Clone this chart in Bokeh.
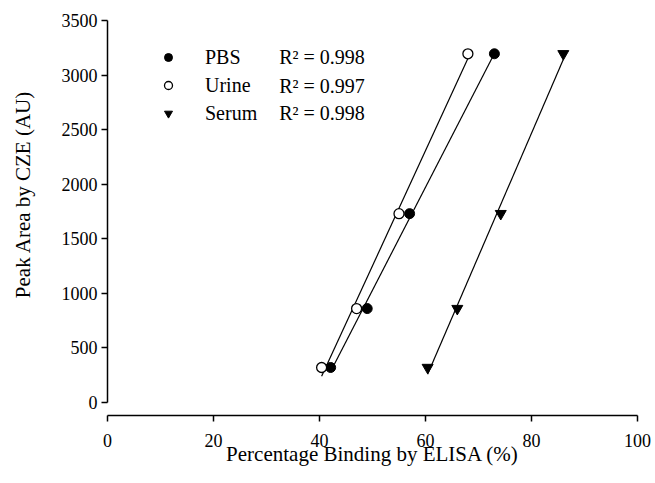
import numpy as np
from bokeh.plotting import figure
from bokeh.models import Range1d, FixedTicker, Legend, LegendItem, Label, LinearAxis
from bokeh.embed import file_html
from bokeh.resources import INLINE

# ---- data ----
pbs_x = [42.1, 49.0, 57.0, 73.0]
pbs_y = [320, 860, 1730, 3195]
urine_x = [40.4, 47.0, 55.0, 68.0]
urine_y = [320, 860, 1730, 3195]
serum_x = [60.4, 66.0, 74.2, 86.0]
serum_y = [320, 860, 1730, 3195]
series_names = ["PBS", "Urine", "Serum"]
r2_labels = ["R\u00b2 = 0.998", "R\u00b2 = 0.997", "R\u00b2 = 0.998"]
x_ticks = [0, 20, 40, 60, 80, 100]
y_ticks = [0, 500, 1000, 1500, 2000, 2500, 3000, 3500]
x_title = "Percentage Binding by ELISA (%)"
y_title = "Peak Area by CZE (AU)"

FONT = "Liberation Serif"

p = figure(width=655, height=483, output_backend="svg", toolbar_location=None,
           x_range=Range1d(0, 100), y_range=Range1d(-120, 3500),
           min_border_left=107, min_border_right=18, min_border_top=20, min_border_bottom=68)
p.outline_line_color = None
p.grid.visible = False
p.background_fill_color = "white"
p.border_fill_color = "white"

xa = p.xaxis[0]
ya = p.yaxis[0]
for ax, ticks, b in ((xa, x_ticks, (0, 100)), (ya, y_ticks, (0, 3500))):
    ax.ticker = FixedTicker(ticks=ticks)
    ax.bounds = b
    ax.axis_line_width = 1.5
    ax.axis_line_color = "black"
    ax.major_tick_line_color = "black"
    ax.major_tick_line_width = 1.5
    ax.major_tick_in = 0
    ax.major_tick_out = 6
    ax.minor_tick_line_color = None
    ax.major_label_text_font = FONT
    ax.major_label_text_font_size = "18px"
    ax.major_label_text_font_style = "normal"
    ax.major_label_text_color = "black"
xa.major_label_standoff = 12
ya.major_label_standoff = 4

xa.axis_label = x_title
xa.axis_label_text_font = FONT
xa.axis_label_text_font_size = "21px"
xa.axis_label_text_font_style = "normal"
xa.axis_label_text_color = "black"
xa.axis_label_standoff = -8

# y title carried by a bare axis; leading no-break spaces lift it to where the reference has it
ytitle_axis = LinearAxis(ticker=FixedTicker(ticks=[]), bounds=(310, 3500),
                         axis_line_color=None, major_tick_line_color=None,
                         minor_tick_line_color=None, axis_label="\u00a0" * 9 + y_title,
                         axis_label_text_font=FONT, axis_label_text_font_size="21px",
                         axis_label_text_font_style="normal", axis_label_text_color="black",
                         axis_label_standoff=24)
p.add_layout(ytitle_axis, "left")

# regression lines
for xs, ys in ((pbs_x, pbs_y), (urine_x, urine_y), (serum_x, serum_y)):
    k, c = np.polyfit(xs, ys, 1)
    lx = np.array([min(xs), max(xs)])
    p.line(lx, k * lx + c, line_color="black", line_width=1.2)

r_pbs = p.scatter(pbs_x, pbs_y, marker="circle", size=10, fill_color="black", line_color="black")
r_uri = p.scatter(urine_x, urine_y, marker="circle", size=10, fill_color="white", line_color="black", line_width=1.3)
r_ser = p.scatter(serum_x, serum_y, marker="inverted_triangle", size=11, fill_color="black", line_color="black")

legend = Legend(items=[LegendItem(label=n, renderers=[r]) for n, r in zip(series_names, [r_pbs, r_uri, r_ser])],
                location=(51, 288), padding=0, margin=0, spacing=0,
                glyph_width=20, glyph_height=28, label_height=28, label_standoff=27,
                label_text_font=FONT, label_text_font_size="20px", label_text_color="black",
                border_line_color=None, background_fill_alpha=0)
p.add_layout(legend, "center")

for txt, yc in zip(r2_labels, [3161, 2904, 2648]):
    p.add_layout(Label(x=32.4, y=yc, text=txt, text_font=FONT, text_font_size="20px",
                       text_color="black", text_baseline="middle"))

open("out.html", "w").write(file_html(p, INLINE))
